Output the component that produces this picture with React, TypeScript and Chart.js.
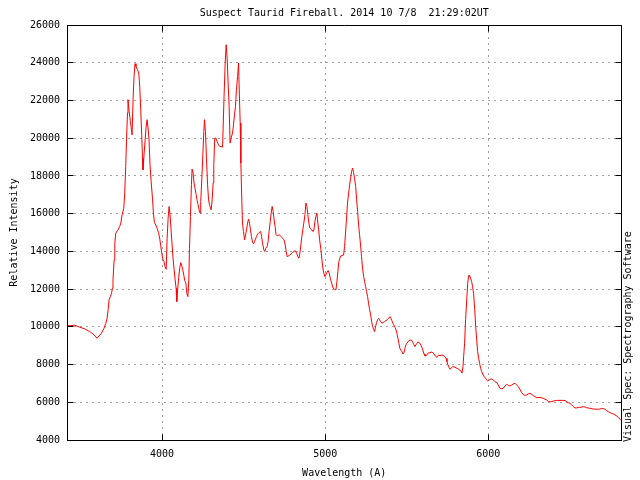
import React, { useEffect, useRef } from "react";
import { Chart, registerables } from "chart.js";

Chart.register(...registerables);

const TITLE = "Suspect Taurid Fireball. 2014 10 7/8  21:29:02UT";
const X_LABEL = "Wavelength (A)";
const Y_LABEL = "Relative Intensity";
const SIDE_LABEL = "Visual Spec: Spectrography Software";

const X_MIN = 3417;
const X_MAX = 6817;
const X_TICKS = [4000, 5000, 6000];
const Y_MIN = 4000;
const Y_MAX = 26000;
const Y_TICKS = [4000, 6000, 8000, 10000, 12000, 14000, 16000, 18000, 20000, 22000, 24000, 26000];

const wavelengths = [
  3417, 3464, 3495, 3526, 3556, 3577, 3601, 3628, 3644, 3655, 3663, 3669, 3675, 3683, 3690, 3696, 3699, 3706, 3710, 3716,
  3730, 3740, 3747, 3755, 3765, 3771, 3777, 3782, 3788, 3791, 3798, 3806, 3812, 3816, 3822, 3828, 3834, 3840, 3849, 3857,
  3863, 3869, 3875, 3880, 3883, 3890, 3896, 3902, 3908, 3914, 3920, 3926, 3933, 3941, 3947, 3953, 3961, 3969, 3978, 3986,
  3992, 3998, 4006, 4012, 4018, 4025, 4031, 4037, 4043, 4049, 4055, 4061, 4067, 4074, 4080, 4086, 4090, 4096, 4102, 4109,
  4115, 4121, 4127, 4133, 4139, 4145, 4152, 4158, 4164, 4168, 4174, 4180, 4184, 4190, 4196, 4202, 4209, 4215, 4221, 4227,
  4233, 4237, 4244, 4250, 4256, 4260, 4266, 4272, 4279, 4285, 4291, 4294, 4301, 4307, 4313, 4317, 4323, 4329, 4337, 4346,
  4354, 4371, 4374, 4380, 4387, 4393, 4399, 4405, 4411, 4417, 4423, 4432, 4438, 4444, 4450, 4456, 4463, 4469, 4472, 4479,
  4483, 4489, 4493, 4499, 4506, 4512, 4518, 4524, 4530, 4536, 4542, 4548, 4555, 4561, 4567, 4573, 4579, 4587, 4595, 4604,
  4610, 4616, 4624, 4630, 4636, 4644, 4650, 4656, 4663, 4669, 4675, 4681, 4687, 4693, 4699, 4706, 4718, 4734, 4748, 4755,
  4761, 4767, 4783, 4800, 4816, 4825, 4833, 4839, 4845, 4851, 4857, 4863, 4869, 4876, 4882, 4888, 4894, 4900, 4906, 4918,
  4925, 4931, 4937, 4943, 4949, 4953, 4960, 4966, 4974, 4980, 4986, 4992, 4998, 5004, 5010, 5018, 5025, 5031, 5037, 5043,
  5049, 5058, 5066, 5072, 5078, 5084, 5090, 5096, 5113, 5119, 5125, 5131, 5137, 5144, 5150, 5156, 5162, 5168, 5174, 5180,
  5187, 5193, 5199, 5205, 5211, 5217, 5223, 5229, 5236, 5242, 5248, 5254, 5260, 5266, 5272, 5279, 5285, 5291, 5297, 5303,
  5309, 5315, 5321, 5328, 5334, 5340, 5348, 5364, 5380, 5389, 5397, 5403, 5409, 5415, 5421, 5428, 5434, 5440, 5446, 5452,
  5458, 5464, 5471, 5477, 5483, 5489, 5495, 5501, 5514, 5526, 5532, 5538, 5544, 5550, 5556, 5563, 5569, 5581, 5587, 5593,
  5599, 5606, 5612, 5618, 5624, 5630, 5642, 5655, 5667, 5679, 5685, 5691, 5698, 5704, 5716, 5728, 5734, 5741, 5747, 5753,
  5759, 5765, 5771, 5783, 5796, 5808, 5820, 5826, 5833, 5839, 5845, 5849, 5855, 5861, 5868, 5874, 5880, 5883, 5892, 5898,
  5904, 5910, 5917, 5923, 5929, 5935, 5941, 5947, 5953, 5960, 5966, 5972, 5978, 5984, 5990, 5996, 6002, 6010, 6021, 6031,
  6041, 6052, 6061, 6072, 6082, 6092, 6102, 6113, 6123, 6133, 6144, 6153, 6164, 6174, 6184, 6194, 6205, 6215, 6225, 6236,
  6245, 6256, 6266, 6276, 6287, 6297, 6317, 6337, 6348, 6358, 6368, 6379, 6389, 6399, 6420, 6460, 6471, 6481, 6491, 6501,
  6512, 6522, 6532, 6542, 6552, 6563, 6583, 6593, 6604, 6624, 6644, 6675, 6685, 6696, 6706, 6716, 6726, 6736, 6747, 6757,
  6767, 6777, 6788, 6798, 6808, 6817,
];

const intensities = [
  10050, 10085, 9980, 9890, 9745, 9620, 9395, 9660, 9925, 10190, 10455, 10900, 11430, 11600, 11780, 12050, 12490, 13550, 14430, 14970,
  15140, 15320, 15500, 15940, 16290, 17090, 18500, 19915, 21330, 22040, 21420, 20890, 20450, 20180, 22040, 23270, 23950, 23800, 23630, 23450,
  22740, 21500, 20180, 18940, 18320, 19200, 19910, 20590, 20980, 20540, 19910, 18590, 17700, 16820, 16030, 15530, 15400, 15230, 15000, 14650,
  14290, 13900, 13550, 13460, 13190, 13050, 14700, 15760, 16380, 15940, 15140, 14400, 13640, 13020, 12490, 12050, 11340, 12050, 12630, 13160,
  13400, 13230, 13020, 12750, 12450, 12350, 11780, 11600, 12490, 14170, 15850, 17530, 18360, 18150, 17620, 17350, 17000, 16690, 16470, 16200,
  16030, 16640, 17880, 19120, 20360, 20980, 20360, 18940, 17530, 16730, 16470, 16380, 16200, 16730, 17620, 18590, 20010, 20010, 19830, 19650,
  19560, 19530, 20450, 22210, 23980, 24950, 24240, 22920, 21680, 19740, 20010, 20270, 20710, 21240, 21680, 22570, 23270, 23980, 22920, 20800,
  18680, 16640, 15500, 15050, 14610, 14880, 15140, 15500, 15710, 15500, 15140, 14790, 14470, 14400, 14520, 14650, 14790, 14930, 15000, 15050,
  14790, 14430, 14080, 13990, 14170, 14250, 14520, 15050, 15580, 16030, 16380, 16110, 15670, 15320, 14880, 14820, 14880, 14750, 14610, 14340,
  13990, 13720, 13800, 13940, 14040, 13900, 13720, 13640, 13900, 14340, 14790, 15140, 15500, 15940, 16560, 16380, 15940, 15500, 15230, 15140,
  15050, 15140, 15580, 15850, 16030, 15670, 15140, 14610, 14080, 13550, 13110, 12840, 12660, 12750, 12880, 12980, 12840, 12580, 12400, 12220,
  12050, 11990, 11960, 12400, 12930, 13460, 13640, 13760, 13810, 14250, 14970, 15760, 16560, 17090, 17530, 17880, 18240, 18410, 18180, 17880,
  17440, 16730, 16110, 15400, 14880, 14340, 13720, 13110, 12660, 12400, 12130, 11870, 11600, 11250, 10930, 10630, 10280, 10010, 9870, 9750,
  10010, 10220, 10370, 10450, 10370, 10280, 10190, 10280, 10370, 10450, 10540, 10450, 10330, 10190, 10100, 9980, 9840, 9660, 9400, 9130,
  8860, 8770, 8680, 8560, 8630, 8860, 9040, 9130, 9270, 9300, 9270, 9160, 9060, 8950, 9040, 9130, 9200, 9130, 9020, 8920,
  8770, 8560, 8460, 8460, 8510, 8600, 8630, 8670, 8560, 8420, 8390, 8460, 8510, 8460, 8510, 8460, 8420, 8330, 8150, 7980,
  7860, 7750, 7800, 7890, 7860, 7800, 7750, 7710, 7620, 7570, 7890, 8420, 9130, 10370, 11430, 12310, 12700, 12750, 12580, 12400,
  12130, 11780, 10900, 10010, 9310, 8680, 8330, 8070, 7800, 7620, 7500, 7390, 7330, 7270, 7180, 7130, 7150, 7220, 7240, 7180,
  7090, 7040, 6920, 6740, 6710, 6740, 6860, 6950, 6900, 6860, 6920, 6970, 7010, 6920, 6830, 6690, 6510, 6400, 6370, 6390,
  6440, 6480, 6420, 6350, 6300, 6240, 6260, 6210, 6160, 6120, 6050, 6030, 6030, 6070, 6100, 6100, 6090, 6030, 5980, 5950,
  5860, 5770, 5700, 5700, 5730, 5730, 5770, 5750, 5710, 5680, 5640, 5630, 5640, 5680, 5660, 5630, 5560, 5500, 5450, 5410,
  5380, 5330, 5270, 5200, 5100, 5020,
];

const FONT = '"DejaVu Sans Mono", monospace';

function align(px: number): number {
  return Math.round(px - 0.5) + 0.5;
}

const framePlugin = {
  id: "gnuplotFrame",
  afterDraw(chart: any) {
    const { ctx, chartArea: a, scales } = chart;
    const xs = scales.x;
    const ys = scales.y;
    const L = align(a.left);
    const R = align(a.right);
    const T = align(a.top);
    const B = align(a.bottom);
    ctx.save();
    ctx.strokeStyle = "#000000";
    ctx.lineWidth = 1;
    ctx.setLineDash([]);
    ctx.beginPath();
    ctx.rect(L, T, R - L, B - T);
    const tick = 6;
    xs.ticks.forEach((t: any) => {
      const px = align(xs.getPixelForValue(t.value));
      ctx.moveTo(px, B);
      ctx.lineTo(px, B - tick);
      ctx.moveTo(px, T);
      ctx.lineTo(px, T + tick);
    });
    ys.ticks.forEach((t: any) => {
      const py = align(ys.getPixelForValue(t.value));
      ctx.moveTo(L, py);
      ctx.lineTo(L + tick, py);
      ctx.moveTo(R, py);
      ctx.lineTo(R - tick, py);
    });
    ctx.stroke();

    ctx.fillStyle = "#000000";
    ctx.font = `10px ${FONT}`;
    ctx.textAlign = "center";
    ctx.textBaseline = "middle";
    const cx = (a.left + a.right) / 2;
    ctx.fillText(TITLE, cx, 13);
    ctx.fillText(X_LABEL, cx, 473);

    ctx.save();
    ctx.translate(14, (a.top + a.bottom) / 2);
    ctx.rotate(-Math.PI / 2);
    ctx.fillText(Y_LABEL, 0, 0);
    ctx.restore();

    ctx.save();
    ctx.translate(628, 442);
    ctx.rotate(-Math.PI / 2);
    ctx.textAlign = "left";
    ctx.fillText(SIDE_LABEL, 0, 0);
    ctx.restore();

    ctx.restore();
  },
};

export default function App() {
  const ref = useRef<HTMLCanvasElement | null>(null);

  useEffect(() => {
    document.body.style.margin = "0";
    const canvas = ref.current;
    if (!canvas) return;
    const points = wavelengths.map((w, i) => ({ x: w, y: intensities[i] }));
    const chart = new Chart(canvas, {
      type: "line",
      data: {
        datasets: [
          {
            data: points,
            borderColor: "#ff0000",
            borderWidth: 1,
            pointRadius: 0,
            tension: 0,
            fill: false,
          },
        ],
      },
      options: {
        animation: false,
        responsive: false,
        devicePixelRatio: 1,
        layout: { padding: { top: 25, right: 18.5, left: 0, bottom: 0 } },
        plugins: {
          legend: { display: false },
          title: { display: false },
          tooltip: { enabled: false },
        },
        scales: {
          x: {
            type: "linear",
            min: X_MIN,
            max: X_MAX,
            afterFit: (s: any) => {
              s.height = 40;
            },
            afterBuildTicks: (s: any) => {
              s.ticks = X_TICKS.map((v) => ({ value: v }));
            },
            ticks: {
              autoSkip: false,
              maxRotation: 0,
              padding: 8,
              color: "#000000",
              font: { family: FONT, size: 10 },
              callback: (v: any) => String(v),
            },
            grid: {
              color: "#a0a0a0",
              lineWidth: 1,
              drawTicks: false,
            },
            border: { display: true, color: "#000000", width: 1, dash: [2, 4] },
          },
          y: {
            type: "linear",
            min: Y_MIN,
            max: Y_MAX,
            afterFit: (s: any) => {
              s.width = 67;
            },
            afterBuildTicks: (s: any) => {
              s.ticks = Y_TICKS.map((v) => ({ value: v }));
            },
            ticks: {
              autoSkip: false,
              padding: 7,
              color: "#000000",
              font: { family: FONT, size: 10 },
              callback: (v: any) => String(v),
            },
            grid: {
              color: "#a0a0a0",
              lineWidth: 1,
              drawTicks: false,
            },
            border: { display: true, color: "#000000", width: 1, dash: [2, 4] },
          },
        },
      },
      plugins: [framePlugin],
    });
    return () => chart.destroy();
  }, []);

  return (
    <div style={{ width: 640, height: 480, background: "#ffffff" }}>
      <canvas ref={ref} width={640} height={480} style={{ display: "block" }} />
    </div>
  );
}
